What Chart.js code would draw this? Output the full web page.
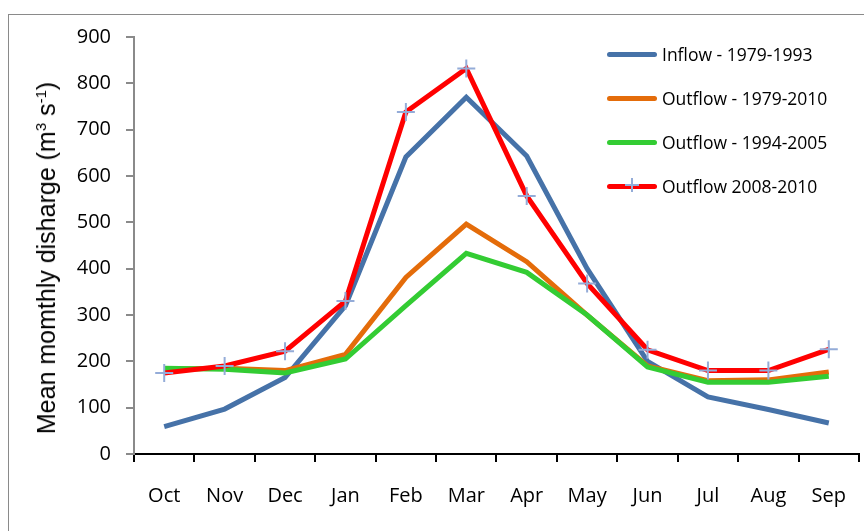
<!DOCTYPE html>
<html>
<head>
<meta charset="utf-8">
<script src="https://cdn.jsdelivr.net/npm/chart.js@4"></script>
<style>
  body { margin: 0; background: #fff; overflow: hidden; }
  #wrap { position: relative; width: 864px; height: 531px; overflow: hidden; }
  #frame { position: absolute; left: 8px; top: 14px; width: 900px; height: 600px; border: 1px solid #8a8a8a; box-sizing: border-box; }
  #c { position: absolute; left: 0; top: 0; }
  #ytitle { position: absolute; left: 46px; top: 258px; transform: translate(-50%, -50%) rotate(-90deg); white-space: nowrap;
            font-family: 'Liberation Sans', sans-serif; font-size: 25px; line-height: 30px; color: #000; }
  #ytitle sup { font-size: 15px; vertical-align: 9px; line-height: 0; }
  #legend { position: absolute; left: 607px; top: 32px; font-family: 'Open Sans', sans-serif; font-size: 17.5px; color: #000; }
  #legend .item { height: 44px; display: flex; align-items: center; position: relative; }
  #legend .swatch { width: 50px; height: 5px; border-radius: 3px; margin-right: 5px; position: relative; }
  #legend .plus { position: absolute; left: 18px; top: -6px; width: 14px; height: 14px; }
</style>
</head>
<body>
<div id="wrap">
  <div id="frame"></div>
  <canvas id="c" width="870" height="531" style="width:870px;height:531px"></canvas>
  <div id="ytitle">Mean momthly disharge (m<sup>3</sup> s<sup>-1</sup>)</div>
  <div id="legend"></div>
</div>
<script>
const months = ['Oct', 'Nov', 'Dec', 'Jan', 'Feb', 'Mar', 'Apr', 'May', 'Jun', 'Jul', 'Aug', 'Sep'];
const inflow7993 = [59, 97, 165, 320, 641, 770, 643, 400, 200, 123, 96, 67];
const outflow7910 = [183, 185, 180, 215, 381, 496, 415, 300, 190, 158, 160, 177];
const outflow9405 = [185, 183, 175, 205, 320, 433, 392, 300, 188, 155, 155, 168];
const outflow0810 = [175, 190, 222, 330, 738, 832, 557, 368, 225, 180, 180, 226];
const seriesNames = ['Inflow - 1979-1993', 'Outflow - 1979-2010', 'Outflow - 1994-2005', 'Outflow 2008-2010'];
const seriesColors = ['#4672a8', '#e46c0a', '#33cc33', '#ff0000'];
const yTicks = [0, 100, 200, 300, 400, 500, 600, 700, 800, 900];

const font = 'Open Sans';
const values = [inflow7993, outflow7910, outflow9405, outflow0810];

new Chart(document.getElementById('c'), {
    type: 'line',
    data: {
        labels: months,
        datasets: values.map((v, i) => ({
            label: seriesNames[i],
            data: v,
            borderColor: seriesColors[i],
            backgroundColor: seriesColors[i],
            borderWidth: 5,
            tension: 0,
            order: 4 - i,
            pointStyle: 'cross',
            pointRadius: i === 3 ? 9 : 0,
            pointBorderColor: '#94acd8',
            pointBorderWidth: 2,
            fill: false
        }))
    },
    options: {
        responsive: false,
        animation: false,
        layout: { padding: { left: 60, top: 37, right: 0, bottom: 0 } },
        plugins: {
            legend: { display: false },
            tooltip: { enabled: false }
        },
        scales: {
            x: {
                offset: true,
                grid: { drawOnChartArea: false, drawTicks: true, tickLength: 8, color: '#000', lineWidth: 2, offset: true },
                border: { color: '#000', width: 2 },
                ticks: { color: '#000', font: { family: font, size: 20 }, padding: 22, maxRotation: 0 },
                afterFit: s => { s.height = 77; }
            },
            y: {
                min: 0,
                max: 900,
                afterBuildTicks: s => { s.ticks = yTicks.map(v => ({ value: v })); },
                grid: { drawOnChartArea: false, drawTicks: true, tickLength: 8, color: '#8a8a8a', lineWidth: 2 },
                border: { color: '#8a8a8a', width: 2 },
                ticks: { color: '#000', font: { family: font, size: 20 }, padding: 15 },
                afterFit: s => { s.width = 74; }
            }
        }
    }
});

const legend = document.getElementById('legend');
seriesNames.forEach((name, i) => {
    const item = document.createElement('div');
    item.className = 'item';
    const sw = document.createElement('div');
    sw.className = 'swatch';
    sw.style.background = seriesColors[i];
    if (i === 3) {
        sw.innerHTML = '<svg class="plus" viewBox="0 0 14 14"><path d="M7 0V14M0 7H14" stroke="#94acd8" stroke-width="2"/></svg>';
    }
    item.appendChild(sw);
    const t = document.createElement('span');
    t.textContent = name;
    item.appendChild(t);
    legend.appendChild(item);
});
</script>
</body>
</html>
